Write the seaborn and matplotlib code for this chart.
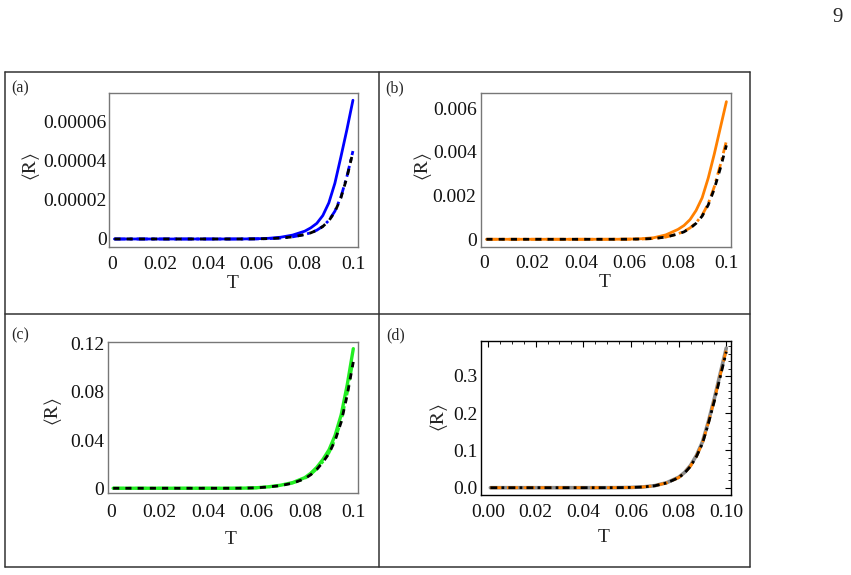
import numpy as np
import pandas as pd
import seaborn as sns
import matplotlib
matplotlib.use("Agg")
import matplotlib.pyplot as plt
from matplotlib.lines import Line2D
from matplotlib.ticker import MultipleLocator

sns.set_style("white")
plt.rcParams["font.family"] = ["Liberation Serif", "DejaVu Serif"]
plt.rcParams["mathtext.fontset"] = "stix"

# ---------------- data ----------------
T = [0.001, 0.01, 0.02, 0.03, 0.04, 0.05, 0.055, 0.06, 0.065, 0.07, 0.075,
     0.08, 0.0825, 0.085, 0.0875, 0.09, 0.0925, 0.095, 0.0975, 0.1]

a_solid = [0, 0, 0, 0, 0, 0, 0.03e-6, 0.12e-6, 0.35e-6, 0.9e-6, 2.0e-6,
           4.0e-6, 5.7e-6, 8.0e-6, 1.2e-5, 1.85e-5, 2.85e-5, 4.2e-5, 5.6e-5, 7.1e-5]
a_dash = [0, 0, 0, 0, 0, 0, 0.01e-6, 0.06e-6, 0.2e-6, 0.5e-6, 1.1e-6,
          2.3e-6, 3.2e-6, 4.5e-6, 6.5e-6, 9.5e-6, 1.42e-5, 2.15e-5, 3.2e-5, 4.5e-5]
a_black = [0, 0, 0, 0, 0, 0, 0.01e-6, 0.06e-6, 0.2e-6, 0.5e-6, 1.08e-6,
           2.25e-6, 3.15e-6, 4.4e-6, 6.4e-6, 9.3e-6, 1.39e-5, 2.1e-5, 3.15e-5, 4.45e-5]

b_solid = [0, 0, 0, 0, 0, 0, 0.000002, 0.000008, 0.000025, 0.00007, 0.0002,
           0.00045, 0.00063, 0.0009, 0.00132, 0.0019, 0.0028, 0.0039, 0.0051, 0.0063]
b_dash = [0, 0, 0, 0, 0, 0, 0.000001, 0.000004, 0.000012, 0.000035, 0.0001,
          0.00025, 0.00036, 0.00052, 0.00076, 0.0011, 0.00163, 0.0024, 0.0034, 0.0045]
b_black = [0, 0, 0, 0, 0, 0, 0.000001, 0.000004, 0.000012, 0.000035, 0.0001,
           0.00024, 0.00034, 0.0005, 0.00073, 0.00106, 0.00157, 0.0023, 0.00325, 0.0043]

c_solid = [0, 0, 0, 0, 0, 0, 0.0001, 0.0004, 0.0012, 0.0025, 0.0047,
           0.0088, 0.0125, 0.0175, 0.024, 0.032, 0.044, 0.061, 0.086, 0.116]
c_dash = [0, 0, 0, 0, 0, 0, 0.0001, 0.00035, 0.0011, 0.0023, 0.0043,
          0.0081, 0.0115, 0.0161, 0.0221, 0.0295, 0.0405, 0.056, 0.079, 0.107]
c_black = [0, 0, 0, 0, 0, 0, 0.0001, 0.00035, 0.0011, 0.0022, 0.0042,
           0.0079, 0.0113, 0.0158, 0.0217, 0.029, 0.0398, 0.055, 0.0775, 0.105]

d_solid = [0, 0, 0, 0, 0, 0, 0.0002, 0.0007, 0.002, 0.0055, 0.0135,
           0.028, 0.041, 0.06, 0.087, 0.123, 0.178, 0.24, 0.308, 0.375]
d_dash = [0, 0, 0, 0, 0, 0, 0.0002, 0.0007, 0.0019, 0.0053, 0.013,
          0.027, 0.040, 0.058, 0.085, 0.120, 0.175, 0.236, 0.303, 0.370]
d_black = [0, 0, 0, 0, 0, 0, 0.0002, 0.0007, 0.0019, 0.0052, 0.0128,
           0.027, 0.0395, 0.0575, 0.084, 0.119, 0.173, 0.233, 0.299, 0.365]

xticks_abc = [0, 0.02, 0.04, 0.06, 0.08, 0.1]
xlabels_abc = ["0", "0.02", "0.04", "0.06", "0.08", "0.1"]
xlabels_d = ["0.00", "0.02", "0.04", "0.06", "0.08", "0.10"]
yticks_a = [0, 0.00002, 0.00004, 0.00006]
ylabels_a = ["0", "0.00002", "0.00004", "0.00006"]
yticks_b = [0, 0.002, 0.004, 0.006]
ylabels_b = ["0", "0.002", "0.004", "0.006"]
yticks_c = [0, 0.04, 0.08, 0.12]
ylabels_c = ["0", "0.04", "0.08", "0.12"]
yticks_d = [0, 0.1, 0.2, 0.3]
ylabels_d = ["0.0", "0.1", "0.2", "0.3"]

BLUE = "#0000ff"
ORANGE = "#ff8000"
GREEN = "#22ee22"
GRAY = "#8c8c8c"

W, H = 851, 575
fig = plt.figure(figsize=(W / 100, H / 100), dpi=100)


def px_axes(x0, y0, x1, y1):
    return fig.add_axes([x0 / W, 1 - y1 / H, (x1 - x0) / W, (y1 - y0) / H])


FS = 14
RL = r"$\langle\mathrm{R}\rangle$"

panels = [
    dict(box=(109, 93, 358, 247), xlim=(-0.00124, 0.1021), ylim=(-4.1e-6, 7.47e-5),
         series=[(a_solid, BLUE, "-", 2.0), (a_dash, BLUE, (0, (4, 1.5, 1, 1.5)), 2.0),
                 (a_black, "black", (0, (2.2, 2.2)), 2.0)],
         yt=yticks_a, yl=ylabels_a, xl=xlabels_abc, ylc=(-0.312, 0.526), xlc=(0.498, -0.234),
         tag="(a)", tagpos=(11, 88), full=False, xpad=6.3, ypad=1.5),
    dict(box=(480.7, 92.7, 731, 246.7), xlim=(-0.00136, 0.1019), ylim=(-0.00034, 0.00671),
         series=[(b_solid, ORANGE, "-", 2.0), (b_dash, ORANGE, (0, (4, 1.5, 1, 1.5)), 2.0),
                 (b_black, "black", (0, (2.2, 2.2)), 2.0)],
         yt=yticks_b, yl=ylabels_b, xl=xlabels_abc, ylc=(-0.23, 0.52), xlc=(0.495, -0.234),
         tag="(b)", tagpos=(385, 88), full=False, xpad=6.3, ypad=3),
    dict(box=(108.3, 341.7, 358.3, 492.7), xlim=(-0.001, 0.10206), ylim=(-0.0037, 0.1218),
         series=[(c_solid, GREEN, "-", 2.4), (c_dash, GREEN, (0, (4, 1.5, 1, 1.5)), 2.0),
                 (c_black, "black", (0, (2.2, 2.2)), 2.0)],
         yt=yticks_c, yl=ylabels_c, xl=xlabels_abc, ylc=(-0.223, 0.54), xlc=(0.49, -0.307),
         tag="(c)", tagpos=(11, 335), full=False, xpad=7.8, ypad=3),
    dict(box=(481.3, 341, 731.3, 495), xlim=(-0.0028, 0.1021), ylim=(-0.0196, 0.394),
         series=[(d_solid, GRAY, "-", 2.6), (d_dash, ORANGE, (0, (4, 2)), 2.0),
                 (d_black, "black", (0, (2.5, 1.5, 1, 1.5)), 2.0)],
         yt=yticks_d, yl=ylabels_d, xl=xlabels_d, ylc=(-0.169, 0.506), xlc=(0.49, -0.279),
         tag="(d)", tagpos=(386, 335), full=True, xpad=6.3, ypad=3),
]

for p in panels:
    ax = px_axes(*p["box"])
    for vals, col, ls, lw in p["series"]:
        df = pd.DataFrame({"T": T, "R": vals})
        sns.lineplot(data=df, x="T", y="R", ax=ax, color=col, linestyle=ls, lw=lw)
    ax.set_xlim(*p["xlim"])
    ax.set_ylim(*p["ylim"])
    ax.set_xticks(xticks_abc, p["xl"])
    ax.set_yticks(p["yt"], p["yl"])
    ax.set_xlabel("T", fontsize=FS)
    ax.set_ylabel(RL, fontsize=FS)
    ax.xaxis.set_label_coords(*p["xlc"])
    ax.xaxis.label.set_va("center")
    ax.yaxis.set_label_coords(*p["ylc"])
    ax.yaxis.label.set_va("center")
    if p["full"]:
        sc = "black"
        ax.xaxis.set_minor_locator(MultipleLocator(0.005))
        ax.yaxis.set_minor_locator(MultipleLocator(0.02))
        ax.tick_params(which="both", direction="in", top=True, right=True, color="black")
        ax.tick_params(which="major", length=4, width=0.8)
        ax.tick_params(which="minor", length=2.2, width=0.6)
    else:
        sc = "#777777"
        ax.tick_params(which="major", direction="in", length=3.5, width=0.7, color="#777777")
    ax.tick_params(axis="both", labelsize=FS, labelcolor="#111111")
    ax.tick_params(axis="x", pad=p["xpad"])
    ax.tick_params(axis="y", pad=p["ypad"])
    for s in ax.spines.values():
        s.set_visible(True)
        s.set_color(sc)
        s.set_linewidth(1.0)
    fig.text(p["tagpos"][0] / W, 1 - p["tagpos"][1] / H, p["tag"], fontsize=11.5,
             ha="left", va="center")

# panel frame lines
def fline(x0, y0, x1, y1):
    fig.add_artist(Line2D([x0 / W, x1 / W], [1 - y0 / H, 1 - y1 / H],
                          color="#333333", lw=1.1, transform=fig.transFigure))

L, R_, Tp, B = 5, 750, 71.7, 566.7
fline(L, Tp, R_, Tp)
fline(L, B, R_, B)
fline(L, Tp, L, B)
fline(R_, Tp, R_, B)
fline(379, Tp, 379, B)
fline(L, 314, R_, 314)

fig.text(838 / W, 1 - 18 / H, "9", fontsize=15, ha="center", va="center")

fig.savefig("out.png", dpi=100)
